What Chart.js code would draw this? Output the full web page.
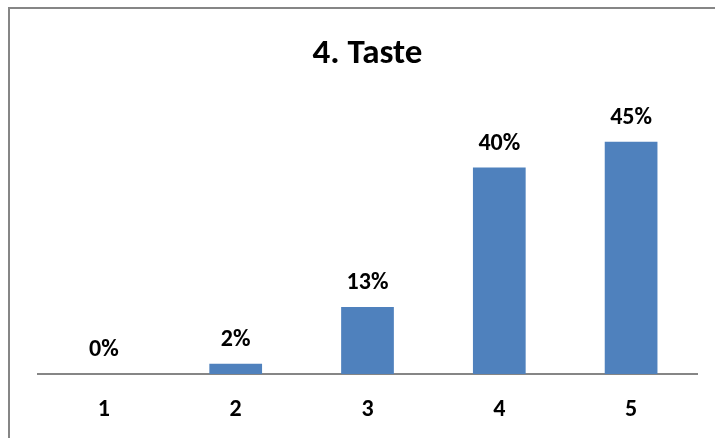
<!DOCTYPE html>
<html lang="en">
<head>
<meta charset="UTF-8">
<title>4. Taste</title>
<style>
    * { margin: 0; padding: 0; box-sizing: border-box; }
    body { width: 715px; height: 438px; background: #ffffff; overflow: hidden; position: relative; }
    /* chart frame, only left and top edges fall inside the window */
    .frame {
        position: absolute;
        left: 8px; top: 7px;
        width: 720px; height: 440px;
        border: 2px solid #868686;
        pointer-events: none;
    }
    .chart-box { position: absolute; left: 0; top: 0; width: 715px; height: 438px; }
</style>
</head>
<body>
<div class="chart-box"><canvas id="tasteChart"></canvas></div>
<div class="frame"></div>
<script src="https://cdn.jsdelivr.net/npm/chart.js"></script>
<script>
    const categories = ['1', '2', '3', '4', '5'];
    const shares = [0, 2, 13, 40, 45];
    const valueLabels = ['0%', '2%', '13%', '40%', '45%'];

    const FONT = "Carlito, Lato, 'Open Sans', sans-serif";

    // draws the percentage above each bar
    const barLabels = {
        id: 'barLabels',
        afterDatasetsDraw(chart) {
            const ctx = chart.ctx;
            const meta = chart.getDatasetMeta(0);
            ctx.save();
            ctx.font = 'bold 24px ' + FONT;
            ctx.fillStyle = '#000000';
            ctx.textAlign = 'center';
            ctx.textBaseline = 'alphabetic';
            meta.data.forEach((bar, i) => {
                ctx.fillText(valueLabels[i], bar.x, bar.y - 18);
            });
            ctx.restore();
        }
    };

    new Chart(document.getElementById('tasteChart'), {
        type: 'bar',
        data: {
            labels: categories,
            datasets: [{
                data: shares,
                backgroundColor: '#4F81BD',
                borderWidth: 0,
                barPercentage: 0.4,
                categoryPercentage: 1.0
            }]
        },
        options: {
            responsive: true,
            maintainAspectRatio: false,
            animation: false,
            devicePixelRatio: 1,
            layout: { padding: { left: 38, right: 18, top: 0, bottom: 0 } },
            scales: {
                x: {
                    grid: { display: false, drawTicks: false },
                    border: { display: true, color: '#868686', width: 2 },
                    ticks: {
                        color: '#000000',
                        padding: 22,
                        font: { family: FONT, size: 24, weight: 'bold' }
                    },
                    afterFit(scale) { scale.height = 64; }
                },
                y: {
                    display: false,
                    min: 0,
                    max: 50
                }
            },
            plugins: {
                legend: { display: false },
                tooltip: { enabled: false },
                title: {
                    display: true,
                    text: '4. Taste',
                    color: '#000000',
                    font: { family: FONT, size: 35, weight: 'bold' },
                    padding: { top: 33, bottom: 41 }
                }
            }
        },
        plugins: [barLabels]
    });
</script>
</body>
</html>
